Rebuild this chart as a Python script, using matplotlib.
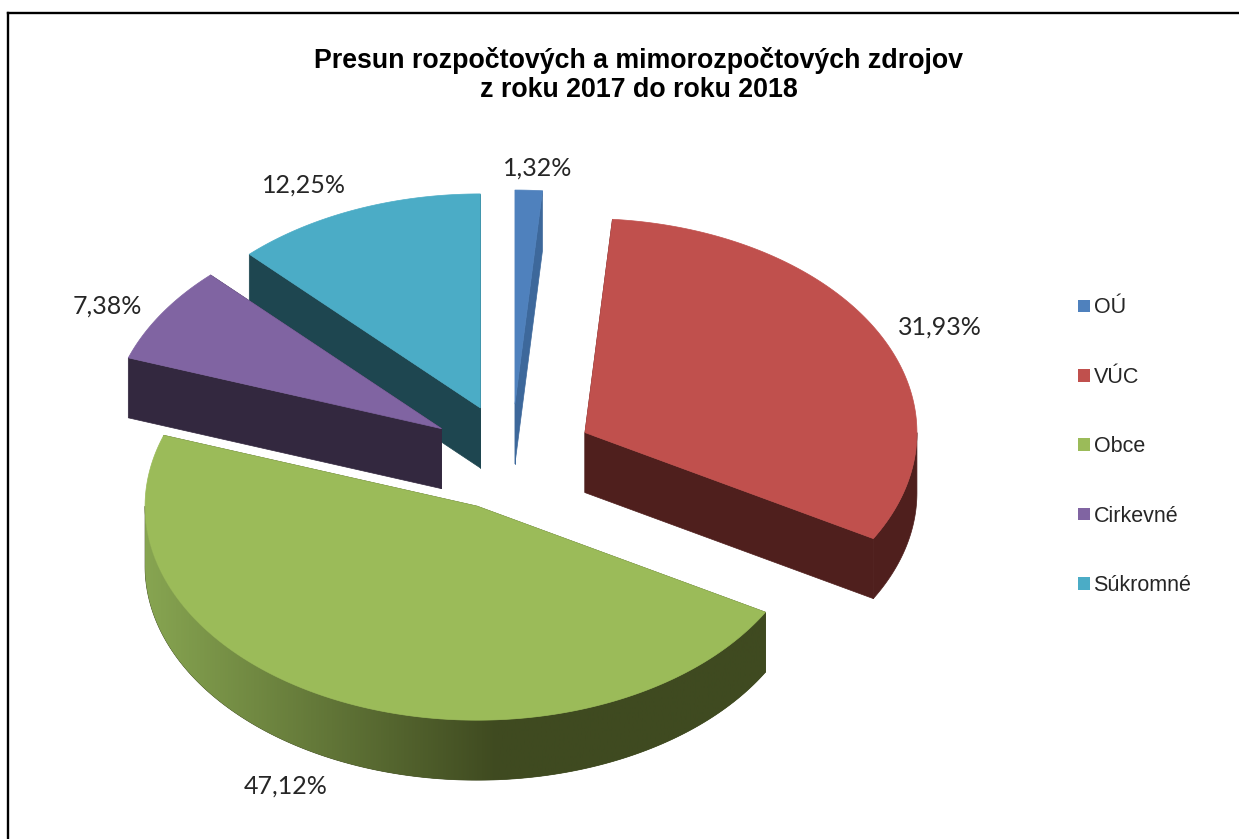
import numpy as np
import matplotlib.pyplot as plt
from matplotlib.colors import LinearSegmentedColormap
from matplotlib.patches import Patch, Polygon

categories = ['OÚ', 'VÚC', 'Obce', 'Cirkevné', 'Súkromné']
values = [1.32, 31.93, 47.12, 7.38, 12.25]
title_lines = ['Presun rozpočtových a mimorozpočtových zdrojov', 'z roku 2017 do roku 2018']

top_colors = ['#4f81bd', '#c0504d', '#9bbb59', '#8064a2', '#4bacc6']
side_colors = ['#3d689b', '#4f1f1d', '#3f4a20', '#33283f', '#1e4650']
label_pos = [(538, 168), (940, 327), (286, 786), (107, 306), (304, 185)]

cx, cy = 511.5, 457.5
rx, ry = 332, 214
explode = 83
depth = 60


def point(t, ox, oy, dy=0):
    return ox + rx * np.sin(t), oy - ry * np.cos(t) + dy


def arc(t0, t1, ox, oy, dy=0):
    t = np.linspace(t0, t1, 200)
    return np.column_stack(point(t, ox, oy, dy))


fig = plt.figure(figsize=(12.39, 8.39), dpi=100)
ax = fig.add_axes([0, 0, 1, 1])
ax.axis('off')

angles = np.cumsum([0] + values) / sum(values) * 2 * np.pi
# back slices first so the front ones paint over them
draw_order = [4, 0, 3, 1, 2]
z = 2
for i in draw_order:
    t0, t1 = angles[i], angles[i + 1]
    mid = (t0 + t1) / 2
    ox = cx + explode * np.sin(mid)
    oy = cy - explode * ry / rx * np.cos(mid)

    # the two cut faces
    for t in (t0, t1):
        px, py = point(t, ox, oy)
        face = [(ox, oy), (px, py), (px, py + depth), (ox, oy + depth)]
        ax.add_patch(Polygon(face, fc=side_colors[i], ec=side_colors[i], lw=0.5, zorder=z))

    # outer wall, only the front half of the ellipse shows
    a0, a1 = max(t0, np.pi / 2), min(t1, 3 * np.pi / 2)
    if a1 > a0:
        wall = np.vstack([arc(a0, a1, ox, oy), arc(a1, a0, ox, oy, depth)])
        wall_patch = Polygon(wall, fc=side_colors[i], ec=side_colors[i], lw=0.5, zorder=z)
        ax.add_patch(wall_patch)
        if categories[i] == 'Obce':
            cmap = LinearSegmentedColormap.from_list('wall', [(0, '#87a551'), (0.53, '#3f4a20'), (1, '#3f4a20')])
            shade = np.linspace(0, 1, 512).reshape(1, -1)
            im = ax.imshow(shade, cmap=cmap, aspect='auto', zorder=z + 0.5,
                           extent=(ox - rx, ox + rx, oy + ry + depth, oy - ry))
            im.set_clip_path(wall_patch)

    top = np.vstack([[(ox, oy)], arc(t0, t1, ox, oy)])
    ax.add_patch(Polygon(top, fc=top_colors[i], ec=top_colors[i], lw=0.5, zorder=z + 1))
    z += 2

ax.set_xlim(0, 1239)
ax.set_ylim(839, 0)

for v, (x, y) in zip(values, label_pos):
    ax.text(x, y, f'{v:.2f}%'.replace('.', ','), family='Lato', fontsize=18,
            color='#262626', ha='center', va='center', zorder=30)

for line, y in zip(title_lines, (60, 90)):
    ax.text(639, y, line, family='Liberation Sans', fontweight='bold', fontsize=19.25,
            color='black', ha='center', va='center', zorder=30)

handles = [Patch(fc=c, ec='none') for c in top_colors]
ax.legend(handles, categories, loc='upper left', bbox_to_anchor=(1072 / 1239, 1 - 291 / 839),
          frameon=False, prop={'family': 'Liberation Sans', 'size': 15.5},
          labelcolor='#262626', labelspacing=2.25, handlelength=0.52, handleheight=0.52,
          handletextpad=0.18, borderpad=0.3, borderaxespad=0)

# the frame is cropped on the right and bottom of the source image
ax.plot([8.2, 8.2], [839, 12.5], color='black', lw=1.7, solid_capstyle='projecting', zorder=40)
ax.plot([8.2, 1239], [12.5, 12.5], color='black', lw=1.7, solid_capstyle='projecting', zorder=40)

fig.savefig('out.png', dpi=100)
